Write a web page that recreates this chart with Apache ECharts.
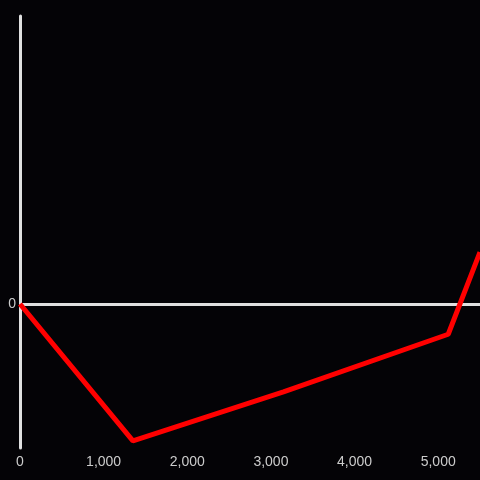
<!DOCTYPE html>
<html><head><meta charset="utf-8">
<script src="https://cdn.jsdelivr.net/npm/echarts@6/dist/echarts.min.js"></script>
<style>html,body{margin:0;padding:0;background:#040306}#c{width:480px;height:480px}</style>
</head><body><div id="c"></div>
<script>
const xValues = [0, 1350, 3150, 5120, 5500];
const yValues = [0, -0.95, -0.61, -0.21, 0.36];
const xTickLabels = ['0', '1,000', '2,000', '3,000', '4,000', '5,000'];
const yTickLabels = ['0'];

const chart = echarts.init(document.getElementById('c'));
chart.setOption({
  backgroundColor: '#040306',
  animation: false,
  grid: {left: 20, right: 0, top: 16, bottom: 32, containLabel: false, outerBoundsMode: 'none'},
  xAxis: {
    type: 'value', min: 0, max: 5500, interval: 1000,
    axisLine: {show: false}, axisTick: {show: false}, splitLine: {show: false},
    axisLabel: {color: '#cccccc', fontSize: 14, fontFamily: 'Liberation Sans, Arial, sans-serif', margin: 7,
      formatter: v => { const i = Math.round(v / 1000); return (v % 1000 === 0 && xTickLabels[i]) ? xTickLabels[i] : ''; }},
  },
  yAxis: {
    type: 'value', min: -1, max: 2, interval: 1,
    axisLine: {show: true, onZero: false, lineStyle: {color: '#e0e0e0', width: 3}},
    axisTick: {show: false}, splitLine: {show: false},
    axisLabel: {color: '#cccccc', fontSize: 14, fontFamily: 'Liberation Sans, Arial, sans-serif', margin: 4,
      formatter: v => v === 0 ? yTickLabels[0] : ''}
  },
  series: [{
    type: 'line',
    data: xValues.map((x, i) => [x, yValues[i]]),
    symbol: 'none',
    lineStyle: {color: '#ff0000', width: 5},
    z: 3,
    markLine: {
      silent: true, symbol: 'none', label: {show: false},
      lineStyle: {color: '#e0e0e0', width: 3, type: 'solid'},
      data: [{yAxis: 0}],
      z: 2
    }
  }]
});
</script></body></html>
